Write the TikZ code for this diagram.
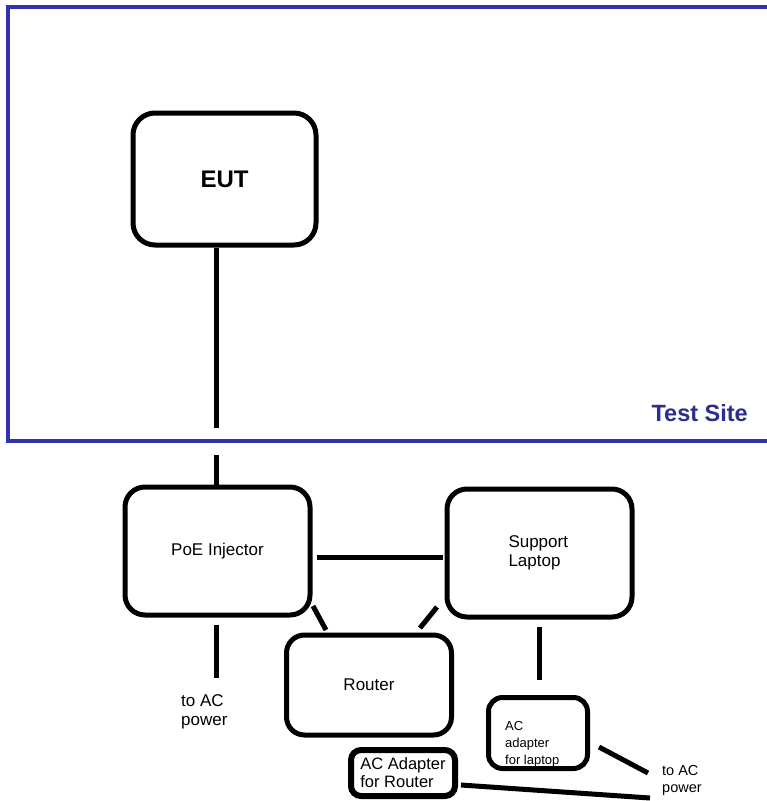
\documentclass[tikz,border=0pt]{standalone}
\usepackage{fontspec}
\setmainfont{Liberation Sans}
\definecolor{siteblue}{RGB}{50,50,175}
\definecolor{sitetext}{RGB}{45,45,140}
\tikzset{
  box/.style={draw=black, line width=5pt, rounded corners=20pt, inner sep=0pt},
  wire/.style={draw=black, line width=5pt},
  lbl/.style={font=\fontsize{17}{19}\selectfont, inner sep=0pt},
}
\begin{document}
\begin{tikzpicture}[x=1pt,y=-1pt]
\useasboundingbox (0,0) rectangle (767,801);
\fill[white] (0,0) rectangle (767,801);
\begin{scope}
\clip (0,0) rectangle (767,801);
\draw[siteblue, line width=4.5pt] (780,7) -- (8,7) -- (8,441) -- (780,441);
\end{scope}
\node[font=\bfseries\fontsize{23.5}{25}\selectfont, text=sitetext, anchor=east, inner sep=0pt] (site) at (748,413) {Test Site};

\node[box, rounded corners=22pt, minimum width=183pt, minimum height=132pt, font=\bfseries\fontsize{24}{26}\selectfont] (eut) at (224.5,179) {EUT};
\node[box, minimum width=185pt, minimum height=128pt, lbl] (poe) at (217.5,551) {PoE Injector};
\node[box, minimum width=185pt, minimum height=128pt, lbl, align=left, text width=62pt] (lap) at (539.5,553) {Support\\Laptop};
\node[box, rounded corners=18pt, minimum width=165pt, minimum height=100pt, lbl] (router) at (369,685) {Router};
\node[box, rounded corners=14pt, minimum width=99pt, minimum height=71pt] (lapac) at (538,733) {};
\node[anchor=west, align=left, inner sep=0pt, font=\fontsize{13}{17}\selectfont] (lapactext) at (505,744) {AC\\adapter\\for laptop};
\node[box, line width=6pt, rounded corners=10pt, minimum width=104pt, minimum height=46pt, align=left, font=\fontsize{16.5}{18}\selectfont] (routerac) at (403,773) {AC Adapter\\for Router};

\node[lbl, anchor=north west, align=left] (acpow1) at (181,694) {to AC\\power};
\node[anchor=west, align=left, inner sep=0pt, font=\fontsize{14.5}{17}\selectfont] (acpow2) at (662,780) {to AC\\power};

\coordinate (e1) at (216,428);
\coordinate (e2) at (216,455);
\draw[wire] (eut.south -| e1) -- (e1);
\draw[wire] (e2) -- (poe.north -| e2);
\draw[wire] ([xshift=4pt]poe.east |- 0,557) -- ([xshift=-2pt]lap.west |- 0,557);
\coordinate (d1) at (313,606);
\coordinate (d2) at (326,630);
\draw[wire] (d1) -- (d2);
\coordinate (d3) at (437,607);
\coordinate (d4) at (420,628);
\draw[wire] (d3) -- (d4);
\coordinate (p1) at (216,625);
\coordinate (p2) at (216,678);
\draw[wire] (p1) -- (p2);
\coordinate (l1) at (539,627);
\coordinate (l2) at (539,680);
\draw[wire] (l1) -- (l2);
\coordinate (a1) at (599,747);
\coordinate (a2) at (648,773);
\draw[wire] (a1) -- (a2);
\coordinate (r1) at (461,785);
\coordinate (r2) at (650,798);
\draw[wire] (r1) -- (r2);
\end{tikzpicture}
\end{document}
